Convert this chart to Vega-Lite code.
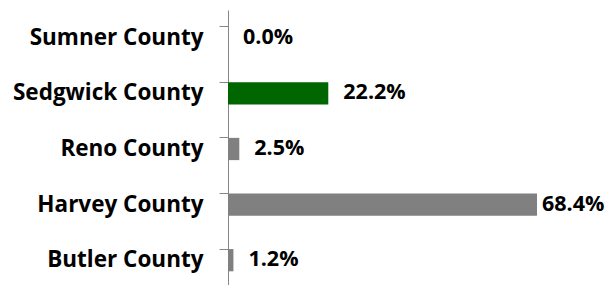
{
  "$schema": "https://vega.github.io/schema/vega-lite/v6.json",
  "autosize": "none",
  "padding": {"left": 228, "top": 10, "right": 0, "bottom": 0},
  "width": 384,
  "height": 278,
  "background": "white",
  "data": {"values": [
    {"county": "Sumner County", "pct": 0.0, "highlight": "no"},
    {"county": "Sedgwick County", "pct": 0.222, "highlight": "yes"},
    {"county": "Reno County", "pct": 0.025, "highlight": "no"},
    {"county": "Harvey County", "pct": 0.684, "highlight": "no"},
    {"county": "Butler County", "pct": 0.012, "highlight": "no"}
  ]},
  "encoding": {
    "y": {"field": "county", "type": "nominal", "sort": null,
      "scale": {"paddingInner": 0.6, "paddingOuter": 0.3}},
    "x": {"field": "pct", "type": "quantitative", "scale": {"domain": [0, 0.85]}, "axis": null}
  },
  "layer": [
    {
      "mark": {"type": "bar"},
      "encoding": {
        "y": {"field": "county", "type": "nominal", "sort": null, "title": null,
          "axis": {"orient": "left", "domain": false, "ticks": false, "labelPadding": 25, "labelLimit": 300,
            "labelFont": "Open Sans", "labelFontWeight": "bold", "labelFontSize": 22.5, "labelColor": "#000000"}},
        "color": {"field": "highlight", "type": "nominal", "legend": null,
          "scale": {"domain": ["yes", "no"], "range": ["#006600", "#808080"]}}
      }
    },
    {
      "mark": {"type": "bar", "opacity": 0},
      "encoding": {
        "y": {"field": "county", "type": "nominal", "sort": null, "title": null,
          "axis": {"orient": "left", "labels": false, "domain": true, "domainColor": "#868686",
            "ticks": true, "tickColor": "#868686", "tickSize": 9, "bandPosition": 0, "grid": false}}
      }
    },
    {
      "transform": [{"filter": "datum.pct < 0.5"}],
      "mark": {"type": "text", "align": "left", "dx": 15, "font": "Open Sans", "fontWeight": "bold", "fontSize": 21.5, "color": "#000000"},
      "encoding": {"text": {"field": "pct", "type": "quantitative", "format": ".1%"}}
    },
    {
      "transform": [{"filter": "datum.pct >= 0.5"}],
      "mark": {"type": "text", "align": "left", "dx": 5, "font": "Open Sans", "fontWeight": "bold", "fontSize": 21.5, "color": "#000000"},
      "encoding": {"text": {"field": "pct", "type": "quantitative", "format": ".1%"}}
    }
  ],
  "resolve": {"axis": {"y": "independent"}},
  "config": {"view": {"stroke": null}}
}
